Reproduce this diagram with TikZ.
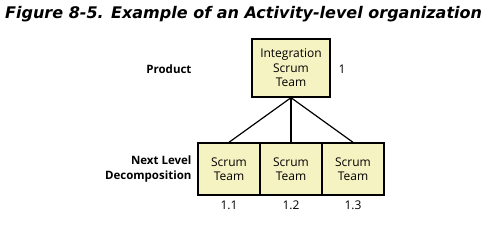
\documentclass[tikz,border=0pt]{standalone}
\usepackage{fontspec}
\setmainfont{Open Sans}
\newfontfamily\titlefont{DejaVu Sans}
\definecolor{boxfill}{HTML}{F6F3C2}
\begin{document}
\begin{tikzpicture}[x=1pt,y=-1pt,
  teambox/.style={draw=black, line width=1.4pt, fill=boxfill, inner sep=0pt, align=center, font=\fontsize{12}{14.5}\selectfont},
  lvl/.style={font=\fontsize{11.5}{14.5}\selectfont\bfseries, align=right, anchor=east},
  num/.style={font=\fontsize{12}{14}\selectfont},
  conn/.style={line width=1.2pt}]
\useasboundingbox (0,0) rectangle (504,231);
\node[anchor=west, inner sep=0pt, font=\titlefont\fontsize{16}{18}\selectfont\bfseries\itshape] (title) at (5,14) {Figure 8-5. Example of an Activity-level organization};
\node[teambox, minimum width=78pt, minimum height=58pt] (top) at (291,68) {Integration\\Scrum\\Team};
\node[teambox, minimum width=62pt, minimum height=52pt] (b1) at (229,169) {Scrum\\Team};
\node[teambox, minimum width=62pt, minimum height=52pt] (b2) at (291,169) {Scrum\\Team};
\node[teambox, minimum width=62pt, minimum height=52pt] (b3) at (353,169) {Scrum\\Team};
\node[num, anchor=west] (n1) at (335,69) {1};
\node[num] (n11) at (229,205) {1.1};
\node[num] (n12) at (291,205) {1.2};
\node[num] (n13) at (353,205) {1.3};
\node[lvl] (lp) at (195,69) {Product};
\node[lvl] (ln) at (195,169) {Next Level\\Decomposition};
\draw[conn] (top.south) -- (b1.north);
\draw[conn] (top.south) -- (b2.north);
\draw[conn] (top.south) -- (b3.north);
\end{tikzpicture}
\end{document}
